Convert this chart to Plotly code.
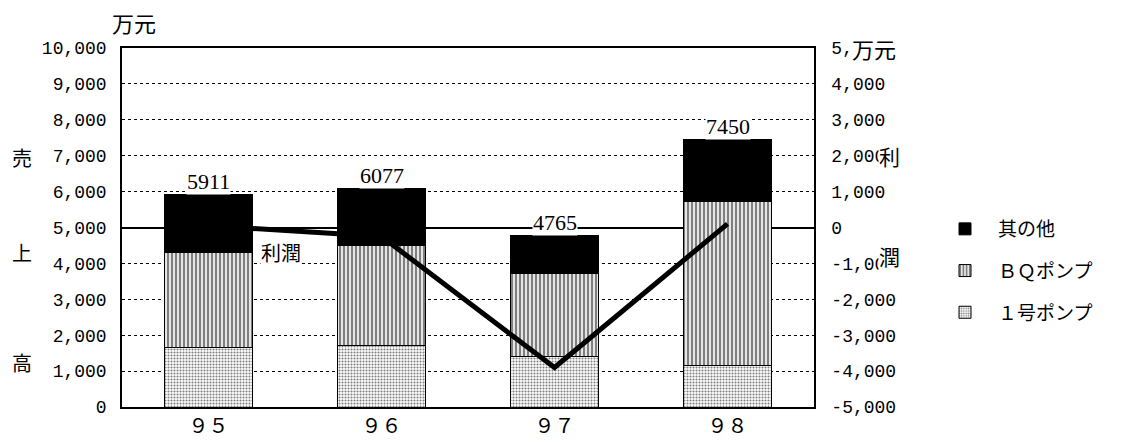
import plotly.graph_objects as go

categories = ["９５", "９６", "９７", "９８"]
ichigo_pump = [1650, 1710, 1400, 1150]      # １号ポンプ
bq_pump = [2640, 2800, 2325, 4570]          # ＢＱポンプ
other = [1621, 1567, 1040, 1730]            # 其の他
totals = [5911, 6077, 4765, 7450]           # 売上高 合計ラベル
profit = [50, -250, -3900, 100]             # 利潤 (右軸)

left_tickvals = [0, 1000, 2000, 3000, 4000, 5000, 6000, 7000, 8000, 9000, 10000]
left_ticktext = ["0", "1,000", "2,000", "3,000", "4,000", "5,000", "6,000", "7,000", "8,000", "9,000", "10,000"]
right_tickvals = [-5000, -4000, -3000, -2000, -1000, 0, 1000, 2000, 3000, 4000, 5000]
right_ticktext = ["-5,000", "-4,000", "-3,000", "-2,000", "-1,000", "0", "1,000", "2,000", "3,000", "4,000", "5,000"]

TICKFONT = dict(family="Liberation Mono, DejaVu Sans Mono", size=18, color="black")
CJK = "Noto Sans CJK JP"
SERIF = "Liberation Serif, Noto Sans CJK JP"

# page body has an 8px margin: figure is sized so the page fits the 1126x444 window
W, H = 1110, 428
L, R, T, B = 114, 304, 40, 29
pw, ph = W - L - R, H - T - B

def px(x_ref):
    return (x_ref - 8 - L) / pw

def py(y_ref):
    return (H - B - (y_ref - 8)) / ph

fig = go.Figure()

fig.add_trace(go.Bar(
    x=categories, y=ichigo_pump, name="１号ポンプ", legendgroup="a", legendrank=3,
    marker=dict(color="white", line=dict(color="black", width=1),
                pattern=dict(shape=".", fgcolor="black", bgcolor="white", size=3, solidity=0.4)),
))
fig.add_trace(go.Bar(
    x=categories, y=bq_pump, name="ＢＱポンプ", legendgroup="b", legendrank=2,
    marker=dict(color="white", line=dict(color="black", width=1),
                pattern=dict(shape="|", fgcolor="black", bgcolor="white", size=4, solidity=0.6)),
))
fig.add_trace(go.Bar(
    x=categories, y=other, name="其の他", legendgroup="c", legendrank=1,
    marker=dict(color="black", line=dict(color="black", width=1)),
))
fig.add_trace(go.Scatter(
    x=categories, y=profit, yaxis="y2", mode="lines", name="利潤",
    line=dict(color="black", width=5), showlegend=False,
))

# total labels above bars
for c, t in zip(categories, totals):
    fig.add_annotation(x=c, y=t, xref="x", yref="y", text=str(t), showarrow=False,
                       xanchor="center", yanchor="bottom", yshift=0, bgcolor="white",
                       font=dict(family=SERIF, size=22, color="black"), borderpad=0)

# axis unit / side labels (reference pixel positions)
ann = [
    ("万元", 134, 22, 22, "center"),
    ("万元", 851, 48, 22, "left"),
    ("利", 878, 156, 21, "left"),
    ("潤", 878, 256, 21, "left"),
    ("売", 22, 157, 20, "center"),
    ("上", 22, 252, 20, "center"),
    ("高", 22, 362, 20, "center"),
    ("利潤", 281, 252, 20, "center"),
]
for text, xr, yr, sz, xa in ann:
    fig.add_annotation(x=px(xr), y=py(yr), xref="paper", yref="paper", text=text,
                       showarrow=False, xanchor=xa, yanchor="middle",
                       bgcolor="white", borderpad=0,
                       font=dict(family=CJK, size=sz, color="black"))

fig.update_layout(
    width=W, height=H,
    margin=dict(l=L, r=R, t=T, b=B, autoexpand=False),
    paper_bgcolor="white", plot_bgcolor="white",
    barmode="stack", bargap=0.49,
    font=dict(family=SERIF, color="black"),
    showlegend=True,
    legend=dict(x=px(932), y=py(210), xanchor="left", yanchor="top",
                traceorder="grouped", tracegroupgap=14, itemwidth=56,
                font=dict(family=CJK, size=19, color="black"),
                bgcolor="rgba(0,0,0,0)"),
    xaxis=dict(showline=True, linecolor="black", linewidth=1.5, mirror=True,
               showgrid=False, ticks="", 
               tickfont=dict(family=CJK, size=20, color="black")),
    yaxis=dict(range=[0, 10000], tickvals=left_tickvals, ticktext=left_ticktext,
               showline=True, linecolor="black", linewidth=1.5,
               showgrid=True, gridcolor="black", gridwidth=1, griddash="dot",
               ticks="outside", ticklen=10, tickcolor="rgba(0,0,0,0)",
               tickfont=TICKFONT, zeroline=False),
    yaxis2=dict(range=[-5000, 5000], tickvals=right_tickvals, ticktext=right_ticktext,
                overlaying="y", side="right",
                showline=True, linecolor="black", linewidth=1.5,
                showgrid=False, zeroline=True, zerolinecolor="black", zerolinewidth=1.5,
                ticks="outside", ticklen=12, tickcolor="rgba(0,0,0,0)",
                tickfont=TICKFONT),
)

fig.write_html("out.html")
